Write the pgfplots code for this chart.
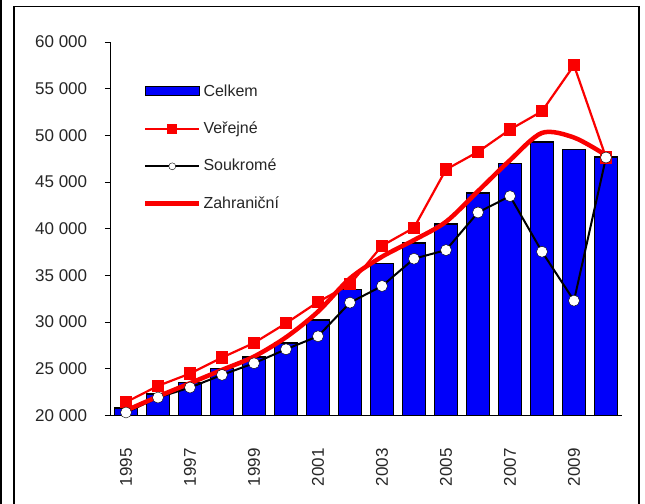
\documentclass[border=0pt]{standalone}
\usepackage{pgfplots}
\pgfplotsset{compat=1.18}
\usepackage{pgfplotstable}
\usepackage{fontspec}
\setmainfont{Liberation Sans}
\definecolor{barblue}{RGB}{0,0,250}
\definecolor{lred}{RGB}{250,0,0}
\pgfplotstableread{
x celkem verejne soukrome zahranicni
0 20820 21426 20321 20535
1 22317 23173 21925 22032
2 23530 24492 22995 23458
3 25027 26203 24349 24884
4 26275 27772 25597 26310
5 27772 29875 27094 28378
6 30232 32157 28485 31123
7 33512 34046 32086 34688
8 36290 38182 33868 37005
9 38467 40107 36791 38788
10 40535 46346 37718 40749
11 43850 48235 41747 44029
12 46988 50624 43494 47344
13 49305 52585 37540 50267
14 48485 57504 32300 49768
15 47665 47629 47629 47879
}\data
\pgfplotsset{
  barleg/.style={legend image code/.code={\draw[##1, line width=1.5bp] (0bp,-4bp) rectangle (54bp,5bp);}},
  markleg/.style={legend image code/.code={\draw[##1, line width=2bp, mark size=#1, mark repeat=2, mark phase=2] plot coordinates {(0bp,0bp) (27bp,0bp) (54bp,0bp)};}},
  lineleg/.style={legend image code/.code={\draw[##1, line width=4.5bp] (0bp,0bp) -- (54bp,0bp);}},
}
\begin{document}
\fontsize{17bp}{20bp}\selectfont
\begin{tikzpicture}
\path[use as bounding box] (0,0) rectangle (645bp,-504bp);
\fill[white] (0,0) rectangle (645bp,-504bp);
\draw[line width=1.5bp] (1bp,0) -- (1bp,-504bp);
\draw[line width=1.5bp] (14bp,-510bp) -- (14bp,-6.5bp) -- (639bp,-6.5bp) -- (639bp,-510bp);
\begin{axis}[
  at={(110bp,-415.5bp)}, anchor=south west,
  scale only axis, width=512bp, height=373.5bp,
  axis lines*=left,
  axis line style={line width=1bp},
  xmin=-0.5, xmax=15.5, ymin=20000, ymax=60000,
  ytick={20000,25000,...,60000},
  scaled y ticks=false,
  /pgf/number format/assume math mode=true,
  /pgf/number format/1000 sep={\ },
  yticklabel style={font=\fontsize{17bp}{20bp}\selectfont, text=black!85},
  xtick={0,2,...,14},
  xticklabels={1995,1997,1999,2001,2003,2005,2007,2009},
  xticklabel style={rotate=90, anchor=east, font=\fontsize{17bp}{20bp}\selectfont, text=black!85},
  xticklabel shift=22bp,
  yticklabel shift=12bp,
  minor xtick={-0.5,0.5,...,15.5},
  xtick style={draw=none},
  minor x tick style={line width=1bp, black},
  ytick style={line width=1bp, black},
  tick align=outside,
  major tick length=5bp,
  minor tick length=6bp,
  legend cell align=left,
  legend style={draw=none, fill=none, inner sep=0pt, outer sep=0pt,
    at={(rel axis cs:0,1)}, anchor=north west, xshift=33bp, yshift=-40bp,
    row sep=18.4bp, column sep=0pt,
    nodes={text height=12bp, text depth=3bp, inner sep=2bp, font=\fontsize{16bp}{19bp}\selectfont, text=black!85}},
]
\addplot[ybar, bar width=23bp, fill=barblue, draw=black, line width=1.5bp, barleg]
  table[x=x, y=celkem] {\data};
\addlegendentry{Celkem}
\addplot[lred, line width=2.2bp, mark=square*, mark size=5bp, mark options={solid, fill=lred}, markleg=4bp]
  table[x=x, y=verejne] {\data};
\addlegendentry{Veřejné}
\addplot[black, line width=2bp, mark=*, mark size=5.5bp, mark options={fill=white, draw=black, line width=0.4bp}, markleg=3.5bp]
  table[x=x, y=soukrome] {\data};
\addlegendentry{Soukromé}
\addplot[lred, line width=4.5bp, smooth, no markers, lineleg]
  table[x=x, y=zahranicni] {\data};
\addlegendentry{Zahraniční}
\end{axis}
\end{tikzpicture}
\end{document}
